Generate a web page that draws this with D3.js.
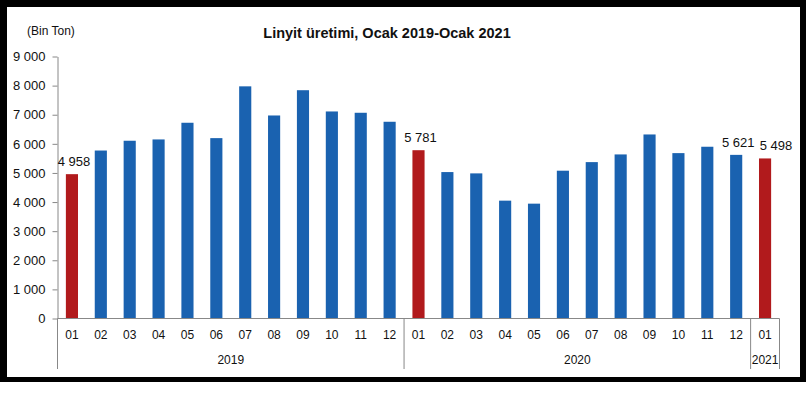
<!DOCTYPE html>
<html>
<head>
<meta charset="utf-8">
<script src="https://cdn.jsdelivr.net/npm/d3@7"></script>
<style>
  body { margin: 0; background: #fff; }
  svg { display: block; font-family: "Liberation Sans", Arial, sans-serif; }
</style>
</head>
<body>
<svg width="812" height="394"></svg>
<script>
// --- data (thousand tonnes) ---
const years = ['2019', '2020', '2021'];
const monthLabels = ['01', '02', '03', '04', '05', '06', '07', '08', '09', '10', '11', '12'];
const values2019 = [4958, 5770, 6106, 6151, 6724, 6196, 7975, 6974, 7842, 7112, 7067, 6758];
const values2020 = [5781, 5030, 4985, 4048, 3945, 5077, 5372, 5636, 6322, 5681, 5900, 5621];
const values2021 = [5498];
const yTicks = [0, 1000, 2000, 3000, 4000, 5000, 6000, 7000, 8000, 9000];
const labelledKeys = ['2019-01', '2020-01', '2020-12', '2021-01'];

const rows = [];
[values2019, values2020, values2021].forEach((vals, yi) => {
    vals.forEach((v, mi) => {
        rows.push({ key: years[yi] + '-' + monthLabels[mi], year: years[yi], month: monthLabels[mi], value: v });
    });
});

const svg = d3.select('svg');

// black frame
svg.append('rect').attr('x', 0).attr('y', 0).attr('width', 806).attr('height', 382).attr('fill', '#000');
svg.append('rect').attr('x', 7).attr('y', 7).attr('width', 793).attr('height', 370).attr('fill', '#fff');

const plotLeft = 57.5, plotRight = 779.5, plotTop = 56.5, plotBottom = 318.5;

const x = d3.scaleBand()
    .domain(rows.map(d => d.key))
    .range([plotLeft, plotRight])
    .paddingInner(0.58)
    .paddingOuter(0.29);

const y = d3.scaleLinear().domain([0, 9000]).range([plotBottom, plotTop]);

const fmt = d3.formatLocale({ thousands: ' ', grouping: [3], decimal: ',', currency: ['', ''] }).format(',d');

// title + unit
svg.append('text')
    .attr('x', 387).attr('y', 38)
    .attr('text-anchor', 'middle')
    .attr('font-size', 14.5).attr('font-weight', 'bold').attr('fill', '#111')
    .text('Linyit üretimi, Ocak 2019-Ocak 2021');

svg.append('text')
    .attr('x', 27).attr('y', 35)
    .attr('font-size', 12).attr('fill', '#111')
    .text('(Bin Ton)');

// y axis
const yAxis = svg.append('g')
    .attr('transform', `translate(${plotLeft},0)`)
    .call(d3.axisLeft(y).tickValues(yTicks).tickFormat(fmt).tickSize(5).tickSizeOuter(0));
yAxis.select('.domain').attr('stroke', '#888');
yAxis.selectAll('.tick line').attr('stroke', '#888');
yAxis.selectAll('.tick text')
    .attr('x', -12)
    .attr('font-size', 13).attr('fill', '#111')
    .attr('font-family', '"Liberation Sans", Arial, sans-serif');

// bars
svg.append('g').selectAll('rect')
    .data(rows)
    .join('rect')
    .attr('x', d => x(d.key))
    .attr('width', x.bandwidth())
    .attr('y', d => y(d.value))
    .attr('height', d => y(0) - y(d.value))
    .attr('fill', d => d.month === '01' ? '#b11a1c' : '#1a62b0');

// value labels
svg.append('g').selectAll('text')
    .data(rows.filter(d => labelledKeys.includes(d.key)))
    .join('text')
    .attr('x', d => x(d.key) + x.bandwidth() / 2 + (d.key === '2021-01' ? 11 : 2))
    .attr('y', d => y(d.value) - 8)
    .attr('text-anchor', 'middle')
    .attr('font-size', 13).attr('fill', '#111')
    .text(d => fmt(d.value));

// x axis: baseline, month labels, year groups
const axisColor = '#888';
svg.append('line')
    .attr('x1', plotLeft).attr('x2', plotRight)
    .attr('y1', plotBottom).attr('y2', plotBottom)
    .attr('stroke', axisColor);

svg.append('g').selectAll('text')
    .data(rows)
    .join('text')
    .attr('x', d => x(d.key) + x.bandwidth() / 2)
    .attr('y', 339)
    .attr('text-anchor', 'middle')
    .attr('font-size', 12).attr('fill', '#111')
    .text(d => d.month);

const step = x.step();
const groups = years.map(yr => {
    const keys = rows.filter(d => d.year === yr).map(d => d.key);
    const x0 = x(keys[0]) - step * x.paddingInner() / 2;
    const x1 = x(keys[keys.length - 1]) + x.bandwidth() + step * x.paddingInner() / 2;
    return { year: yr, x0, x1 };
});

const bounds = [plotLeft].concat(groups.map(g => g.x1));
bounds[bounds.length - 1] = plotRight;
svg.append('g').selectAll('line')
    .data(bounds)
    .join('line')
    .attr('x1', d => d).attr('x2', d => d)
    .attr('y1', plotBottom).attr('y2', 369)
    .attr('stroke', axisColor);

svg.append('g').selectAll('text')
    .data(groups)
    .join('text')
    .attr('x', (d, i) => i === groups.length - 1 ? (d.x0 + plotRight) / 2 : (d.x0 + d.x1) / 2)
    .attr('y', 364)
    .attr('text-anchor', 'middle')
    .attr('font-size', 12).attr('fill', '#111')
    .text(d => d.year);
</script>
</body>
</html>
